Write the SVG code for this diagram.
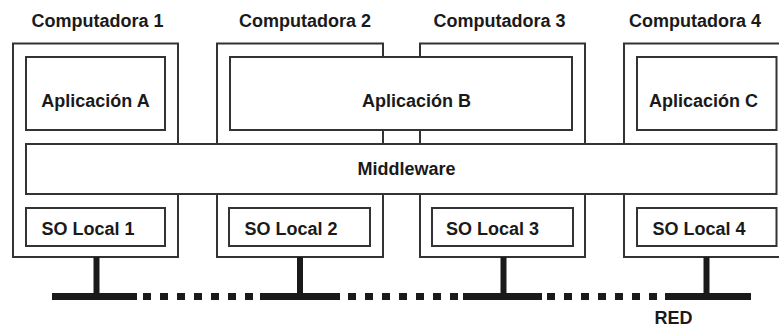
<svg xmlns="http://www.w3.org/2000/svg" width="779" height="329" viewBox="0 0 779 329">
<style>
.box{fill:#fff;stroke:#333;stroke-width:2}
.t{font-family:"Liberation Sans",Arial,sans-serif;font-weight:bold;font-size:18px;fill:#1a1a1a;text-anchor:middle}
.bar{stroke:#1a1a1a;stroke-width:7;fill:none}
.dash{stroke:#1a1a1a;stroke-width:7;fill:none;stroke-dasharray:8 9}
.stem{stroke:#1a1a1a;stroke-width:6;fill:none}
</style>
<rect width="779" height="329" fill="#fff"/>
<g id="computadora1">
<text class="t" x="97.5" y="27">Computadora 1</text>
<rect class="box" x="13" y="43.5" width="165" height="213.5"/>
<g id="aplicacionA"><rect class="box" x="26" y="57" width="139" height="73"/><text class="t" x="95.5" y="107">Aplicación A</text></g>
<g id="solocal1"><rect class="box" x="26" y="208" width="139" height="38"/><text class="t" x="88" y="235">SO Local 1</text></g>
</g>
<g id="computadora2">
<text class="t" x="305" y="27">Computadora 2</text>
<rect class="box" x="217" y="43.5" width="166" height="213.5"/>
<g id="solocal2"><rect class="box" x="229" y="208" width="141" height="38"/><text class="t" x="291" y="235">SO Local 2</text></g>
</g>
<g id="computadora3">
<text class="t" x="499.5" y="27">Computadora 3</text>
<rect class="box" x="420" y="43.5" width="165" height="213.5"/>
<g id="solocal3"><rect class="box" x="432" y="208" width="141" height="38"/><text class="t" x="492.5" y="235">SO Local 3</text></g>
</g>
<g id="computadora4">
<text class="t" x="695" y="27">Computadora 4</text>
<rect class="box" x="624" y="43.5" width="180" height="213.5"/>
<g id="aplicacionC"><rect class="box" x="637" y="57" width="139.5" height="73"/><text class="t" x="703.5" y="107">Aplicación C</text></g>
<g id="solocal4"><rect class="box" x="637" y="208" width="139.5" height="38"/><text class="t" x="699" y="235">SO Local 4</text></g>
</g>
<g id="aplicacionB">
<rect class="box" x="230" y="57" width="342" height="73"/>
<text class="t" x="416.5" y="107">Aplicación B</text>
</g>
<g id="middleware">
<rect class="box" x="26" y="144" width="750.5" height="50"/>
<text class="t" x="406.5" y="175">Middleware</text>
</g>
<g id="connectors">
<line class="stem" x1="96.5" y1="257" x2="96.5" y2="296"/>
<line class="stem" x1="300" y1="257" x2="300" y2="296"/>
<line class="stem" x1="503.5" y1="257" x2="503.5" y2="296"/>
<line class="stem" x1="706.5" y1="257" x2="706.5" y2="296"/>
<line class="bar" x1="52" y1="296.5" x2="137" y2="296.5"/>
<line class="dash" x1="143" y1="296.5" x2="258" y2="296.5"/>
<line class="bar" x1="260" y1="296.5" x2="340" y2="296.5"/>
<line class="dash" x1="348" y1="296.5" x2="458" y2="296.5"/>
<line class="bar" x1="463" y1="296.5" x2="542" y2="296.5"/>
<line class="dash" x1="547" y1="296.5" x2="658" y2="296.5"/>
<line class="bar" x1="665" y1="296.5" x2="751" y2="296.5"/>
</g>
<g id="red"><text class="t" x="673.5" y="324">RED</text></g>
</svg>
